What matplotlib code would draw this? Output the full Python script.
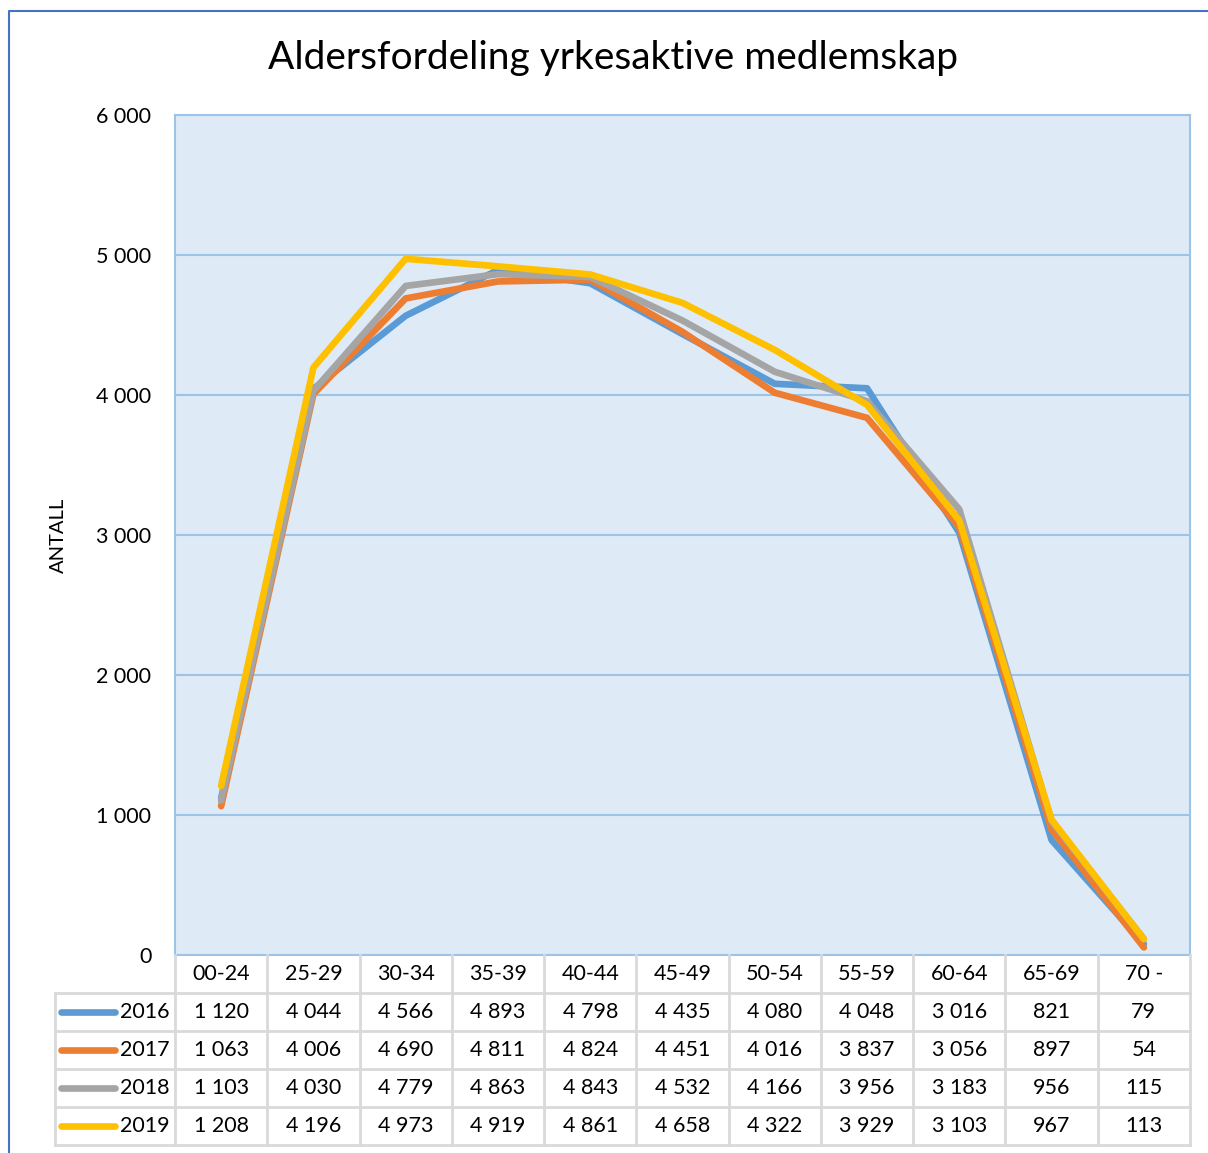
import matplotlib.pyplot as plt
import numpy as np

# Aldersfordeling yrkesaktive medlemskap - linjediagram med datatabell

aldersgrupper = ['00-24', '25-29', '30-34', '35-39', '40-44', '45-49',
                 '50-54', '55-59', '60-64', '65-69', '70 -']
aar = ['2016', '2017', '2018', '2019']
antall_2016 = [1120, 4044, 4566, 4893, 4798, 4435, 4080, 4048, 3016, 821, 79]
antall_2017 = [1063, 4006, 4690, 4811, 4824, 4451, 4016, 3837, 3056, 897, 54]
antall_2018 = [1103, 4030, 4779, 4863, 4843, 4532, 4166, 3956, 3183, 956, 115]
antall_2019 = [1208, 4196, 4973, 4919, 4861, 4658, 4322, 3929, 3103, 967, 113]
serier = [antall_2016, antall_2017, antall_2018, antall_2019]
farger = ['#5B9BD5', '#ED7D31', '#A5A5A5', '#FFC000']

plt.rcParams['font.family'] = ['Lato', 'DejaVu Sans']

W, H = 1208, 1153
fig = plt.figure(figsize=(W / 100, H / 100), dpi=100)


def px(x0, y0, x1, y1):
    # piksel-boks -> figurkoordinater
    return [x0 / W, 1 - y1 / H, (x1 - x0) / W, (y1 - y0) / H]


# ramme rundt diagrammet
ramme = fig.add_axes([0, 0, 1, 1], facecolor='none')
ramme.set_xlim(0, W)
ramme.set_ylim(H, 0)
ramme.axis('off')
ramme.plot([8.5, 8.5, W], [H, 10.5, 10.5], color='#4472C4', lw=1.5)

# hovedplott
ax = fig.add_axes(px(175, 115, 1190, 955))
ax.set_facecolor('#DEEBF7')
n = len(aldersgrupper)
x = np.arange(n)
for verdier, farge in zip(serier, farger):
    ax.plot(x, verdier, color=farge, lw=4.8, solid_capstyle='round',
            solid_joinstyle='round', zorder=3)
ax.set_xlim(-0.5, n - 0.5)
ax.set_ylim(0, 6000)
ax.set_yticks(np.arange(0, 6001, 1000))
ax.set_yticklabels([f'{v:,}'.replace(',', ' ') for v in range(0, 6001, 1000)])
ax.set_xticks([])
ax.tick_params(axis='y', length=0, pad=17, labelsize=15.5)
ax.grid(axis='y', color='#9DC3E6', lw=1.5)
ax.set_axisbelow(True)
for s in ax.spines.values():
    s.set_color('#9DC3E6')
    s.set_linewidth(1.5)
ax.set_ylabel('ANTALL', fontsize=14.5)
ax.yaxis.set_label_coords((67 - 175) / 1015, 0.5)

fig.text(613 / W, 1 - 58 / H, 'Aldersfordeling yrkesaktive medlemskap',
         ha='center', va='center', fontsize=28)

# datatabell
col_w = 1015 / n
venstre = -0.5 - 120 / col_w
tab = fig.add_axes(px(55, 955, 1190, 1145), facecolor='none')
tab.set_xlim(venstre, n - 0.5)
tab.set_ylim(5, 0)
tab.axis('off')
gra = '#D9D9D9'
for r in range(1, 6):
    tab.plot([venstre, n - 0.5], [r, r], color=gra, lw=2, clip_on=False)
for k in range(n + 1):
    tab.plot([k - 0.5, k - 0.5], [0, 5], color=gra, lw=2, clip_on=False)
tab.plot([venstre, venstre], [1, 5], color=gra, lw=2, clip_on=False)

for k, gruppe in enumerate(aldersgrupper):
    tab.text(k, 0.5, gruppe, ha='center', va='center', fontsize=15.5)
for r, (navn, verdier, farge) in enumerate(zip(aar, serier, farger), start=1):
    tab.plot([venstre + 0.07, venstre + 0.65], [r + 0.5, r + 0.5], color=farge,
             lw=4.8, solid_capstyle='round', clip_on=False)
    tab.text(venstre + 0.7, r + 0.5, navn, ha='left', va='center', fontsize=15.5)
    for k, v in enumerate(verdier):
        tab.text(k, r + 0.5, f'{v:,}'.replace(',', ' '), ha='center',
                 va='center', fontsize=15.5)

fig.savefig('out.png', dpi=100)
